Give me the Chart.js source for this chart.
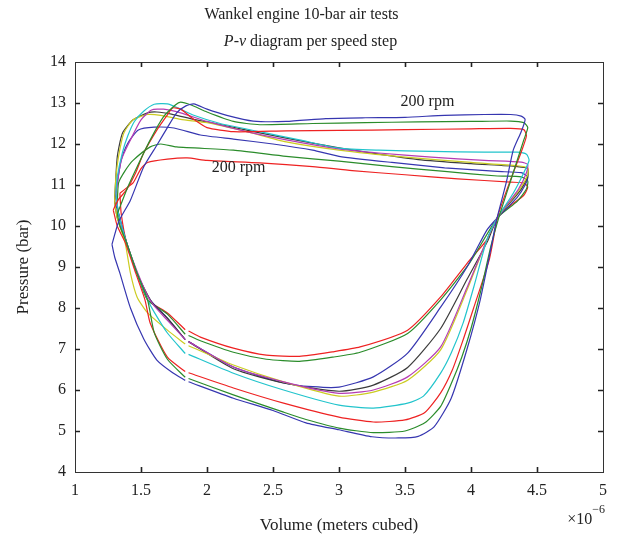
<!DOCTYPE html>
<html><head><meta charset="utf-8">
<script src="https://cdn.jsdelivr.net/npm/chart.js@4"></script>
<style>html,body{margin:0;padding:0;background:#fff;}</style>
</head><body>
<canvas id="c" width="621" height="544"></canvas>
<script>
// Volume in units of 1e-6 m^3, pressure in bar
const titleLine1 = 'Wankel engine 10-bar air tests';
const titleLine2 = ['P', '-', 'v', ' diagram per speed step']; // italic P and v
const xTitle = 'Volume (meters cubed)';
const yTitle = 'Pressure (bar)';
const xMultiplier = ['\u00d710', '\u22126'];
const rpmLabels = ['200 rpm', '200 rpm'];
const rpmLabelVol = [3.67, 2.24];
const rpmLabelPres = [13.02, 11.41];

const seriesNames = ['B1','G1','R1','C','M','Y','K','B2','G2','R2'];
const seriesColors = ['#3636b0','#2b8c2b','#ee2222','#22c4cc','#b43cb4','#cccc22','#3c3c3c','#3636b0','#2b8c2b','#ee2222'];

const volB1 = [1.28,1.33,1.42,1.52,1.62,1.70,1.77,1.84,1.90,2.00,2.15,2.35,2.60,2.90,3.20,3.50,3.80,4.10,4.30,4.38,4.41,4.38,4.32,4.27,4.23,4.19,4.16,4.07,3.97,3.85,3.72,3.60,3.45,3.25,3.00,2.75,2.50,2.20,1.86,1.848,1.835,1.74,1.62,1.52,1.42,1.34,1.30,1.28];
const presB1 = [9.55,10.1,10.63,11.44,11.97,12.4,12.76,12.93,12.98,12.85,12.7,12.56,12.55,12.62,12.64,12.65,12.7,12.72,12.72,12.68,12.6,12.3,11.85,11.1,10.6,10.1,9.6,8.2,7.0,5.8,5.1,4.87,4.83,4.86,5.03,5.2,5.5,5.8,6.2,null,6.235,6.42,6.73,7.25,8.0,8.85,9.25,9.55];

const volG1 = [1.32,1.34,1.40,1.47,1.57,1.67,1.76,1.80,1.88,2.00,2.20,2.40,2.80,3.20,3.60,4.00,4.30,4.40,4.43,4.40,4.34,4.28,4.21,4.15,4.08,4.00,3.93,3.85,3.77,3.65,3.50,3.26,3.00,2.75,2.58,2.20,1.86,1.848,1.835,1.70,1.60,1.55,1.47,1.39,1.34,1.32];
const presG1 = [10.3,10.46,10.95,11.44,12.1,12.66,12.95,13.02,12.95,12.78,12.55,12.47,12.5,12.52,12.54,12.55,12.56,12.52,12.4,12.1,11.5,10.9,10.2,9.5,8.5,7.5,6.8,6.15,5.6,5.2,5.0,4.96,5.07,5.28,5.46,5.88,6.28,null,6.31,6.75,7.4,8.2,8.85,9.6,10.0,10.3];

const volR1 = [1.29,1.33,1.39,1.46,1.52,1.62,1.70,1.74,1.80,1.90,2.00,2.20,2.60,3.00,3.50,4.00,4.30,4.40,4.42,4.38,4.32,4.24,4.20,4.14,4.02,3.94,3.86,3.77,3.65,3.50,3.26,3.00,2.58,2.20,1.86,1.848,1.835,1.70,1.57,1.53,1.46,1.38,1.32,1.29];
const presR1 = [10.39,10.65,10.88,11.3,11.78,12.34,12.71,12.88,12.85,12.6,12.4,12.3,12.32,12.33,12.35,12.37,12.38,12.35,12.2,11.8,11.3,10.6,10.2,9.2,8.0,7.22,6.5,5.93,5.45,5.27,5.22,5.34,5.68,6.05,6.42,null,6.45,6.8,7.63,8.2,8.85,9.6,10.0,10.39];

const volC = [1.31,1.32,1.36,1.40,1.45,1.52,1.60,1.70,1.78,1.90,2.10,2.40,2.70,3.00,3.30,3.70,4.10,4.35,4.42,4.44,4.40,4.32,4.20,4.12,4.02,3.94,3.85,3.77,3.64,3.52,3.26,3.00,2.58,2.20,1.86,1.848,1.835,1.70,1.60,1.55,1.47,1.39,1.33,1.31];
const presC = [10.8,11.2,11.8,12.2,12.55,12.8,12.97,12.98,12.88,12.7,12.5,12.3,12.1,11.9,11.85,11.82,11.8,11.8,11.75,11.6,11.3,10.8,10.2,9.66,8.5,7.63,6.9,6.41,5.85,5.68,5.56,5.63,6.0,6.41,6.87,null,6.89,7.39,7.9,8.2,8.85,9.6,10.3,10.8];

const volM = [1.31,1.35,1.42,1.50,1.58,1.67,1.80,2.00,2.30,2.60,3.00,3.30,3.70,4.10,4.38,4.43,4.42,4.36,4.20,4.12,3.97,3.77,3.52,3.26,3.00,2.58,2.20,1.86,1.848,1.835,1.70,1.60,1.55,1.47,1.39,1.33,1.31];
const presM = [10.8,11.6,12.1,12.59,12.83,12.85,12.76,12.55,12.3,12.1,11.88,11.78,11.68,11.6,11.56,11.5,11.3,10.9,10.2,9.66,8.5,7.05,6.32,6.0,5.92,6.2,6.56,7.18,null,7.23,7.7,8.05,8.3,8.9,9.6,10.3,10.8];

const volY = [1.30,1.31,1.33,1.37,1.44,1.55,1.65,1.80,2.00,2.30,2.60,3.00,3.50,4.00,4.35,4.43,4.43,4.37,4.20,4.12,3.97,3.77,3.52,3.26,3.00,2.58,2.20,1.86,1.848,1.835,1.70,1.55,1.47,1.42,1.38,1.32,1.30];
const presY = [10.6,11.2,11.7,12.27,12.59,12.72,12.7,12.6,12.52,12.3,12.05,11.85,11.68,11.55,11.47,11.42,11.25,10.9,10.2,9.66,8.44,6.98,6.24,5.95,5.85,6.2,6.61,7.08,null,7.12,7.46,7.88,8.27,8.85,9.59,10.2,10.6];

const volK = [1.30,1.32,1.36,1.44,1.55,1.62,1.73,1.90,2.00,2.40,2.80,3.20,3.60,4.00,4.35,4.43,4.43,4.37,4.20,4.13,3.97,3.77,3.52,3.26,3.00,2.58,2.20,1.86,1.848,1.835,1.70,1.58,1.47,1.39,1.32,1.30];
const presK = [10.6,11.68,12.27,12.59,12.76,12.78,12.73,12.6,12.54,12.27,12.02,11.8,11.62,11.52,11.45,11.4,11.2,10.85,10.2,9.66,8.7,7.5,6.55,6.12,5.97,6.17,6.52,7.18,null,7.23,7.75,8.15,8.85,9.6,10.2,10.6];

const volB2 = [1.30,1.32,1.35,1.40,1.48,1.60,1.75,1.95,2.20,2.50,2.80,3.00,3.40,3.80,4.20,4.38,4.43,4.41,4.35,4.20,4.12,3.97,3.77,3.52,3.26,3.00,2.80,2.58,2.20,1.86,1.848,1.835,1.70,1.57,1.47,1.39,1.33,1.30];
const presB2 = [10.6,11.05,11.6,12.02,12.34,12.41,12.39,12.22,12.12,12.0,11.85,11.7,11.55,11.42,11.33,11.3,11.2,11.0,10.7,10.2,9.9,9.0,8.02,6.9,6.32,6.07,6.08,6.17,6.56,7.18,null,7.23,7.75,8.2,8.85,9.6,10.3,10.6];

const volG2 = [1.32,1.33,1.38,1.44,1.57,1.65,1.77,2.20,2.60,3.00,3.40,3.80,4.20,4.38,4.43,4.42,4.35,4.20,3.99,3.77,3.52,3.16,2.95,2.70,2.45,2.20,1.95,1.86,1.848,1.835,1.70,1.55,1.47,1.39,1.33,1.32];
const presG2 = [10.5,11.05,11.35,11.6,11.93,12.0,11.93,11.85,11.7,11.58,11.45,11.33,11.22,11.2,11.1,10.9,10.6,10.2,9.1,8.2,7.38,6.92,6.8,6.7,6.75,6.92,7.2,7.33,null,7.36,7.85,8.2,8.85,9.6,10.3,10.5];

const volR2 = [1.34,1.40,1.44,1.50,1.55,1.70,1.85,2.00,2.40,2.80,3.10,3.50,3.90,4.30,4.40,4.43,4.40,4.30,4.20,4.12,3.99,3.77,3.52,3.16,2.95,2.70,2.45,2.20,1.95,1.86,1.848,1.835,1.70,1.55,1.47,1.39,1.35,1.34];
const presR2 = [10.8,10.95,11.05,11.4,11.55,11.63,11.66,11.6,11.54,11.45,11.35,11.25,11.15,11.07,11.05,10.95,10.75,10.5,10.2,9.66,9.17,8.27,7.46,7.05,6.93,6.82,6.85,7.02,7.29,7.44,null,7.47,7.88,8.2,8.85,9.6,10.3,10.8];

const xTicks = [1,1.5,2,2.5,3,3.5,4,4.5,5];
const yTicks = [4,5,6,7,8,9,10,11,12,13,14];

const vols = [volB1,volG1,volR1,volC,volM,volY,volK,volB2,volG2,volR2];
const press = [presB1,presG1,presR1,presC,presM,presY,presK,presB2,presG2,presR2];

const SERIF = "'Liberation Serif', 'Times New Roman', serif";

const datasets = seriesNames.map((name, i) => ({
  label: name,
  data: vols[i].map((v, j) => ({x: v, y: press[i][j]})),
  showLine: true,
  spanGaps: false,
  borderColor: seriesColors[i],
  borderWidth: 1.2,
  pointRadius: 0,
  tension: 0.2,
  fill: false
}));

const framePlugin = {
  id: 'frame',
  afterDraw(chart) {
    const ctx = chart.ctx, a = chart.chartArea;
    const xs = chart.scales.x, ys = chart.scales.y;
    ctx.save();
    ctx.strokeStyle = '#333';
    ctx.lineWidth = 1;
    ctx.strokeRect(Math.round(a.left) + 0.5, Math.round(a.top) + 0.5, Math.round(a.right - a.left), Math.round(a.bottom - a.top));
    ctx.lineWidth = 1.6;
    ctx.strokeStyle = '#222';
    const L = 5;
    ctx.beginPath();
    xTicks.forEach(v => {
      if (v === xTicks[0] || v === xTicks[xTicks.length - 1]) return;
      const px = Math.round(xs.getPixelForValue(v)) + 0.5;
      ctx.moveTo(px, a.bottom); ctx.lineTo(px, a.bottom - L);
      ctx.moveTo(px, a.top); ctx.lineTo(px, a.top + L);
    });
    yTicks.forEach(v => {
      if (v === yTicks[0] || v === yTicks[yTicks.length - 1]) return;
      const py = Math.round(ys.getPixelForValue(v)) + 0.5;
      ctx.moveTo(a.left, py); ctx.lineTo(a.left + L, py);
      ctx.moveTo(a.right, py); ctx.lineTo(a.right - L, py);
    });
    ctx.stroke();

    // second title line with italic P and v
    ctx.fillStyle = '#222';
    ctx.textBaseline = 'middle';
    const fonts = ['italic 16px ' + SERIF, '16px ' + SERIF, 'italic 16px ' + SERIF, '16px ' + SERIF];
    let total = 0;
    const widths = titleLine2.map((t, i) => { ctx.font = fonts[i]; const w = ctx.measureText(t).width; total += w; return w; });
    let x = chart.width / 2 - total / 2;
    ctx.textAlign = 'left';
    titleLine2.forEach((t, i) => { ctx.font = fonts[i]; ctx.fillText(t, x, 42); x += widths[i]; });

    // x multiplier
    ctx.textBaseline = 'alphabetic';
    ctx.font = '16px ' + SERIF;
    const w10 = ctx.measureText(xMultiplier[0]).width;
    ctx.font = '12px ' + SERIF;
    const w6 = ctx.measureText(xMultiplier[1]).width;
    const startX = a.right + 2 - w6 - w10;
    ctx.font = '16px ' + SERIF;
    ctx.fillText(xMultiplier[0], startX, 524);
    ctx.font = '12px ' + SERIF;
    ctx.fillText(xMultiplier[1], startX + w10, 513);

    // rpm labels
    ctx.font = '16px ' + SERIF;
    ctx.textAlign = 'center';
    ctx.textBaseline = 'middle';
    rpmLabels.forEach((t, i) => {
      ctx.fillText(t, xs.getPixelForValue(rpmLabelVol[i]), ys.getPixelForValue(rpmLabelPres[i]));
    });
    ctx.restore();
  }
};

new Chart(document.getElementById('c'), {
  type: 'scatter',
  data: { datasets },
  plugins: [framePlugin],
  options: {
    responsive: false,
    animation: false,
    devicePixelRatio: 1,
    layout: { padding: { top: 0, right: 18, bottom: 0, left: 0 } },
    plugins: {
      legend: { display: false },
      tooltip: { enabled: false },
      title: {
        display: true, text: titleLine1, color: '#222',
        font: { family: SERIF, size: 16, weight: 'normal', lineHeight: 1.2 },
        padding: { top: 5.4, bottom: 37.4 }
      }
    },
    scales: {
      x: {
        type: 'linear', min: 1, max: 5,
        afterBuildTicks(s) { s.ticks = xTicks.map(v => ({ value: v })); },
        afterFit(s) { s.height = 72; },
        grid: { display: false, drawTicks: false, tickLength: 0 },
        border: { display: false },
        ticks: { color: '#222', padding: 9, maxRotation: 0, autoSkip: false, font: { family: SERIF, size: 16 },
                 callback: (v) => String(v) },
        title: { display: true, text: xTitle, color: '#222', font: { family: SERIF, size: 17 }, padding: { top: 0, bottom: 8 } }
      },
      y: {
        type: 'linear', min: 4, max: 14,
        afterBuildTicks(s) { s.ticks = yTicks.map(v => ({ value: v })); },
        afterFit(s) { s.width = 75; },
        grid: { display: false, drawTicks: false, tickLength: 0 },
        border: { display: false },
        ticks: { color: '#222', padding: 9, autoSkip: false, font: { family: SERIF, size: 16 },
                 callback: (v) => String(v) },
        title: { display: true, text: yTitle, color: '#222', font: { family: SERIF, size: 17 }, padding: { top: 13, bottom: 0 } }
      }
    }
  }
});
</script>
</body></html>
